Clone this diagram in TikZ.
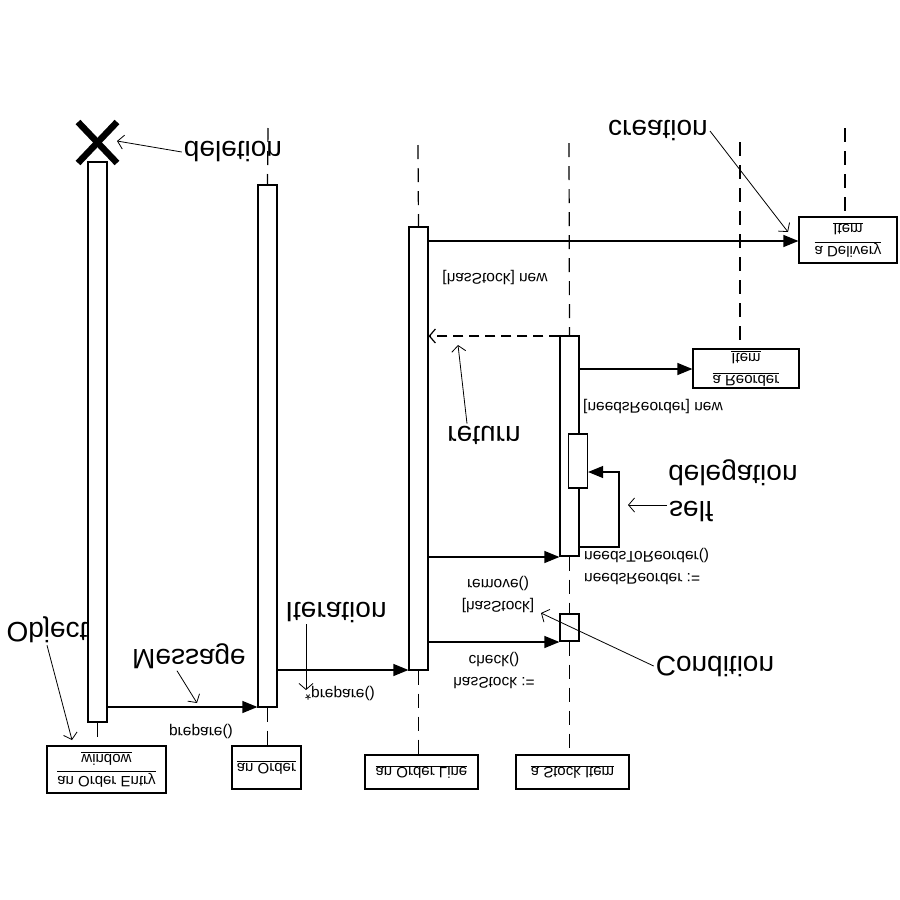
\documentclass[tikz,border=0pt]{standalone}
\usepackage{fontspec}
\setmainfont{Liberation Sans}
\usetikzlibrary{arrows.meta}
\newcommand{\lblfont}{\fontsize{15.5}{22}\selectfont}
\newcommand{\boxfont}{\fontsize{15}{22}\selectfont}
\newcommand{\notefont}{\fontsize{28}{32}\selectfont}
\tikzset{
  objbox/.style={draw, line width=1.2pt, fill=white, inner sep=2pt, align=center, font=\boxfont},
  actbar/.style={draw, line width=1.2pt, fill=white, minimum width=19pt, inner sep=0pt},
  lifeline/.style={line width=1.2pt, dash pattern=on 14pt off 9pt},
  msg/.style={line width=1.2pt, -{Triangle[length=15pt,width=12pt]}},
  retmsg/.style={line width=1.2pt, dash pattern=on 10pt off 6pt, -{Straight Barb[length=6pt,width=14pt]}},
  lbl/.style={font=\lblfont, inner sep=1pt},
  note/.style={font=\notefont, inner sep=2pt},
  noteline/.style={line width=0.8pt, -{Straight Barb[length=6pt,width=14pt]}}
}
\begin{document}
\begin{tikzpicture}[x=1pt, y=1pt, yscale=-1, every node/.append style={transform shape}]
  \useasboundingbox[fill=white] (0,0) rectangle (900,900);

  \node[note] (objnote) at (47,630) {Object};
  \node[note] (msgnote) at (189,656) {Message};
  \node[note] (iternote) at (336,612) {Iteration};
  \node[note] (delnote) at (233,152) {deletion};
  \node[note] (crenote) at (658,131) {creation};
  \node[note] (retnote) at (484,435) {return};
  \node[note] (delegnote) at (733,473) {delegation};
  \node[note] (selfnote) at (691,512) {self};
  \node[note] (condnote) at (715,666) {Condition};

  \coordinate (ordertop) at (268,128);
  \coordinate (linetop) at (418,145);
  \coordinate (stocktop) at (569,143);
  \coordinate (reordertop) at (740,142);
  \coordinate (deliverytop) at (845,128);
  \coordinate (delmark) at (97,142);

  \node[objbox, minimum width=119pt, minimum height=47pt] (winobj) at (106.5,769.5)
    {\underline{an Order Entry}\\\underline{window}};
  \node[objbox, minimum width=69pt, minimum height=43pt] (orderobj) at (266.5,767.5)
    {\underline{an Order}};
  \node[objbox, minimum width=113pt, minimum height=34pt] (lineobj) at (421.5,772)
    {\underline{an Order Line}};
  \node[objbox, minimum width=113pt, minimum height=34pt] (stockobj) at (572.5,772)
    {\underline{a Stock Item}};
  \node[objbox, minimum width=106pt, minimum height=39pt] (reorderobj) at (746,368.5)
    {\underline{a Reorder}\\\underline{Item}};
  \node[objbox, minimum width=98pt, minimum height=46pt] (delobj) at (848,240)
    {\underline{a Delivery}\\\underline{Item}};

  \draw[lifeline] (ordertop) -- (267.5,185);
  \draw[lifeline] (linetop) -- (418.5,227);
  \draw[lifeline] (stocktop) -- (569.5,336);
  \draw[lifeline] (reordertop) -- (reorderobj.south -| reordertop);
  \draw[lifeline] (deliverytop) -- (delobj.south -| deliverytop);

  \node[actbar, minimum height=560pt] (winbar) at (97.5,442) {};
  \node[actbar, minimum height=522pt] (orderbar) at (267.5,446) {};
  \node[actbar, minimum height=443pt] (linebar) at (418.5,448.5) {};
  \node[actbar, minimum height=220pt] (stockbar) at (569.5,446) {};
  \node[actbar, minimum height=54pt] (selfbar) at (578,461) {};
  \node[actbar, minimum height=27pt] (checkbar) at (569.5,627.5) {};

  \draw[lifeline] (winbar.north) -- (winobj.south -| winbar);
  \draw[lifeline] (orderbar.north) -- (orderobj.south -| orderbar);
  \draw[lifeline] (linebar.north) -- (lineobj.south -| linebar);
  \draw[lifeline] (stockbar.north) -- (checkbar.south);
  \draw[lifeline] (checkbar.north) -- (stockobj.south -| checkbar);

  \draw[line width=6.5pt] (78,122) -- (117,163) (117,122) -- (78,163);

  \draw[msg] (winbar.east |- 0,707) -- (orderbar.west |- 0,707);
  \draw[msg] (orderbar.east |- 0,670) -- (linebar.west |- 0,670);
  \draw[msg] (linebar.east |- 0,241) -- (delobj.west |- 0,241);
  \draw[retmsg] (stockbar.west |- 0,336) -- (linebar.east |- 0,336);
  \draw[msg] (stockbar.east |- 0,369) -- (reorderobj.west |- 0,369);
  \draw[msg] (stockbar.east |- 0,547) -- (619,547) -- (619,472) -- (selfbar.east |- 0,472);
  \draw[msg] (linebar.east |- 0,557) -- (stockbar.west |- 0,557);
  \draw[msg] (linebar.east |- 0,642) -- (checkbar.west |- 0,642);

  \node[lbl] (prep1) at (201,731) {prepare()};
  \node[lbl] (prep2) at (340,693) {*prepare()};
  \node[lbl] (newdel) at (495,278) {[hasStock] new};
  \node[lbl] (newreo) at (653,407) {[needsReorder] new};
  \node[lbl, align=left, anchor=west] (selfmsg) at (583,567) {needsReorder :=\\needsToReorder()};
  \node[lbl, align=center] (removemsg) at (498,595) {[hasStock]\\remove()};
  \node[lbl, align=center] (checkmsg) at (494,671) {hasStock :=\\check()};

  \coordinate (objtip) at (72,740);
  \coordinate (msgtip) at (197,703);
  \coordinate (itertip) at (306,690);
  \coordinate (deltip) at (117,141);
  \coordinate (cretip) at (788,232);
  \coordinate (rettip) at (458,345);
  \coordinate (selftip) at (628,505);
  \coordinate (condtip) at (541,613);

  \draw[noteline] (objnote.north) -- (objtip);
  \draw[noteline] ([xshift=-12pt]msgnote.north) -- (msgtip);
  \draw[noteline] ([xshift=-30pt]iternote.north) -- (itertip);
  \draw[noteline] (delnote.west) -- (deltip);
  \draw[noteline] (crenote.east) -- (cretip);
  \draw[noteline] ([xshift=-17pt]retnote.south) -- (rettip);
  \draw[noteline] (selfnote.west |- selftip) -- (selftip);
  \draw[noteline] (condnote.west) -- (condtip);
\end{tikzpicture}
\end{document}
